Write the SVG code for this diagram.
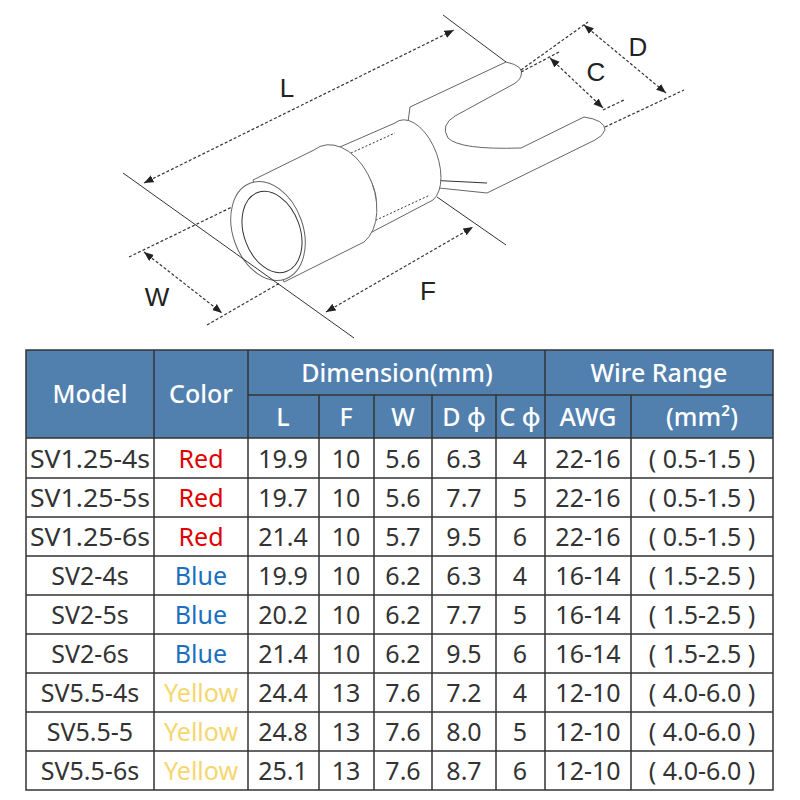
<svg xmlns="http://www.w3.org/2000/svg" width="800" height="800" viewBox="0 0 800 800">
<style>
.d{stroke:#333;stroke-width:1.2;fill:none;stroke-dasharray:3 2}
.e{stroke:#333;stroke-width:1;fill:none}
.b{stroke:#666;stroke-width:1;fill:#fff}
.dl{font-family:"Liberation Sans",Arial,sans-serif;font-size:26px;fill:#222;text-anchor:middle}
.h{font-family:"Noto Sans",sans-serif;font-size:25px;fill:#fff;text-anchor:middle;font-weight:500}
.t{font-family:"Noto Sans",sans-serif;font-size:25px;fill:#333;text-anchor:middle}
.g{stroke:#333;stroke-width:1.5;fill:none}
</style>
<defs><marker id="a" viewBox="0 0 10 10" refX="10" refY="5" markerWidth="8" markerHeight="8" orient="auto-start-reverse"><path d="M0,1 L10,5 L0,9 z" fill="#222"/></marker></defs>
<rect width="800" height="800" fill="#fff"/>
<g id="terminal">
<path class="b" d="M410,107 L506,62 Q525,66 521,76 Q519,82 510,86 L455,116 Q440,125 448,138 Q460,150 521,148 L584,117 Q605,120 605,130 Q603,136 595,140 L487,193 L439,188 L406,137 Z"/>
<path class="e" d="M427,180 L487,183"/>
<path class="b" d="M333,150 L395,123 A22,40 -20 0 1 433,200 L372,232 Z"/>
<path class="e" d="M340,158 L395,133 M372,222 L430,195" stroke-dasharray="2 2"/>
<ellipse class="b" cx="348" cy="196" rx="27" ry="37" transform="rotate(-20 348 196)"/>
<ellipse class="e" cx="348" cy="195" rx="18" ry="27" transform="rotate(-20 348 195)"/>
<path class="b" d="M253,180 L314,150 A32,48 -20 0 1 364,242 L284,282 Z"/>
<ellipse class="b" cx="268" cy="231" rx="35" ry="51" transform="rotate(-20 268 231)"/>
<ellipse class="e" cx="272" cy="232" rx="28" ry="42" transform="rotate(-20 272 232)"/>
</g>
<g id="dimensions">
<path class="e" d="M123,173 L354,338 M443,15 L506,62 M437,197 L506,245"/>
<path class="d" d="M521,70 L588,22 M605,127 L684,90 M521,72 L559,52 M603,110 L624,100 M129,257 L232,207 M207,325 L280,283"/>
<path class="d" marker-start="url(#a)" marker-end="url(#a)" d="M144,183 L454,30"/>
<path class="d" marker-start="url(#a)" marker-end="url(#a)" d="M584,25 L666,93"/>
<path class="d" marker-start="url(#a)" marker-end="url(#a)" d="M550,58 L603,108"/>
<path class="d" marker-start="url(#a)" marker-end="url(#a)" d="M144,252 L222,313"/>
<path class="d" marker-start="url(#a)" marker-end="url(#a)" d="M326,312 L473,227"/>
<text class="dl" x="287" y="97">L</text>
<text class="dl" x="638" y="56">D</text>
<text class="dl" x="596" y="81">C</text>
<text class="dl" x="157" y="306">W</text>
<text class="dl" x="428" y="300">F</text>
</g>
<g id="table">
<rect x="26" y="350" width="747" height="88" fill="#5180af"/>
<path class="g" d="M26,350 H773 V790 H26 Z M248,395 H773 M26,438 H773 M26,478 H773 M26,517 H773 M26,556 H773 M26,595 H773 M26,634 H773 M26,673 H773 M26,712 H773 M26,751 H773 M154,350 V790 M248,350 V790 M545,350 V790 M319,395 V790 M374,395 V790 M432,395 V790 M496,395 V790 M631,395 V790"/>
<text class="h" x="90" y="403">Model</text><text class="h" x="201" y="403">Color</text>
<text class="h" x="397" y="382">Dimension(mm)</text><text class="h" x="659" y="382">Wire Range</text>
<text class="h" x="283" y="426">L</text><text class="h" x="346" y="426">F</text><text class="h" x="403" y="426">W</text>
<text class="h" x="464" y="426">D ϕ</text><text class="h" x="520" y="426">C ϕ</text><text class="h" x="588" y="426">AWG</text><text class="h" x="702" y="426">(mm²)</text>
<g class="t">
<text x="90" y="468" textLength="120" lengthAdjust="spacingAndGlyphs">SV1.25-4s</text><text x="201" y="468" fill="#e00000">Red</text><text x="283" y="468">19.9</text><text x="346" y="468">10</text><text x="403" y="468">5.6</text><text x="464" y="468">6.3</text><text x="520" y="468">4</text><text x="588" y="468">22-16</text><text x="702" y="468">( 0.5-1.5 )</text>
<text x="90" y="507" textLength="120" lengthAdjust="spacingAndGlyphs">SV1.25-5s</text><text x="201" y="507" fill="#e00000">Red</text><text x="283" y="507">19.7</text><text x="346" y="507">10</text><text x="403" y="507">5.6</text><text x="464" y="507">7.7</text><text x="520" y="507">5</text><text x="588" y="507">22-16</text><text x="702" y="507">( 0.5-1.5 )</text>
<text x="90" y="546" textLength="120" lengthAdjust="spacingAndGlyphs">SV1.25-6s</text><text x="201" y="546" fill="#e00000">Red</text><text x="283" y="546">21.4</text><text x="346" y="546">10</text><text x="403" y="546">5.7</text><text x="464" y="546">9.5</text><text x="520" y="546">6</text><text x="588" y="546">22-16</text><text x="702" y="546">( 0.5-1.5 )</text>
<text x="90" y="585">SV2-4s</text><text x="201" y="585" fill="#1a6fc0">Blue</text><text x="283" y="585">19.9</text><text x="346" y="585">10</text><text x="403" y="585">6.2</text><text x="464" y="585">6.3</text><text x="520" y="585">4</text><text x="588" y="585">16-14</text><text x="702" y="585">( 1.5-2.5 )</text>
<text x="90" y="624">SV2-5s</text><text x="201" y="624" fill="#1a6fc0">Blue</text><text x="283" y="624">20.2</text><text x="346" y="624">10</text><text x="403" y="624">6.2</text><text x="464" y="624">7.7</text><text x="520" y="624">5</text><text x="588" y="624">16-14</text><text x="702" y="624">( 1.5-2.5 )</text>
<text x="90" y="663">SV2-6s</text><text x="201" y="663" fill="#1a6fc0">Blue</text><text x="283" y="663">21.4</text><text x="346" y="663">10</text><text x="403" y="663">6.2</text><text x="464" y="663">9.5</text><text x="520" y="663">6</text><text x="588" y="663">16-14</text><text x="702" y="663">( 1.5-2.5 )</text>
<text x="90" y="702">SV5.5-4s</text><text x="201" y="702" fill="#f5d76e">Yellow</text><text x="283" y="702">24.4</text><text x="346" y="702">13</text><text x="403" y="702">7.6</text><text x="464" y="702">7.2</text><text x="520" y="702">4</text><text x="588" y="702">12-10</text><text x="702" y="702">( 4.0-6.0 )</text>
<text x="90" y="741">SV5.5-5</text><text x="201" y="741" fill="#f5d76e">Yellow</text><text x="283" y="741">24.8</text><text x="346" y="741">13</text><text x="403" y="741">7.6</text><text x="464" y="741">8.0</text><text x="520" y="741">5</text><text x="588" y="741">12-10</text><text x="702" y="741">( 4.0-6.0 )</text>
<text x="90" y="780">SV5.5-6s</text><text x="201" y="780" fill="#f5d76e">Yellow</text><text x="283" y="780">25.1</text><text x="346" y="780">13</text><text x="403" y="780">7.6</text><text x="464" y="780">8.7</text><text x="520" y="780">6</text><text x="588" y="780">12-10</text><text x="702" y="780">( 4.0-6.0 )</text>
</g>
</g>
</svg>
